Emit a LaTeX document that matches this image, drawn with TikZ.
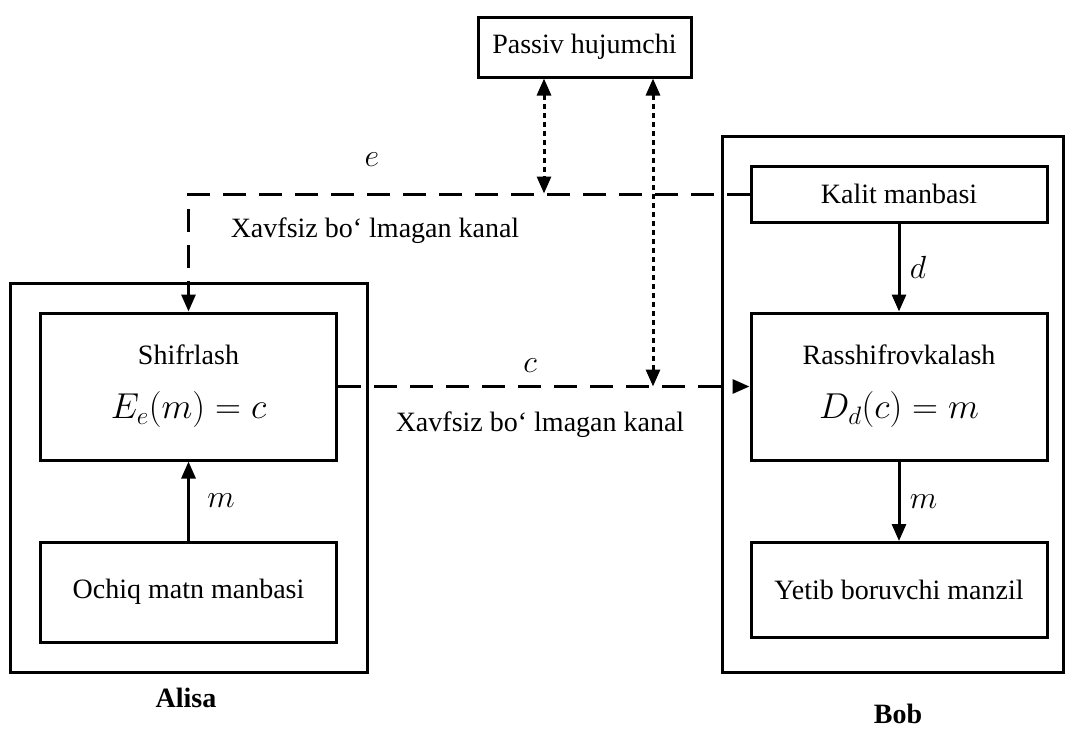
\RequirePackage{fix-cm}
\documentclass[tikz,border=0pt]{standalone}
\usepackage{fontspec}
\setmainfont{Liberation Serif}
\usetikzlibrary{arrows.meta}
\begin{document}
\begin{tikzpicture}[x=1pt,y=-1pt,line width=3pt,>={Triangle[length=17pt,width=14pt]}]
	\tikzstyle{box}=[draw,rectangle,minimum width=296pt,inner sep=0pt,align=center,font=\fontsize{28}{34}\selectfont]
	\tikzstyle{frame}=[draw,rectangle,inner sep=0pt]
	\tikzstyle{kanal}=[dash pattern=on 23pt off 13pt]
	\tikzstyle{hujum}=[dash pattern=on 5pt off 4pt,<->]
	\tikzstyle{lbl}=[font=\fontsize{28}{34}\selectfont]
	\tikzstyle{harf}=[font=\fontsize{32}{38}\selectfont]
	\useasboundingbox (0,0) rectangle (1067,731);

	\node[box,minimum width=213pt,minimum height=60pt] (pas) at (584.5,47) {Passiv hujumchi};

	\begin{scope}
		\node[frame,minimum width=357pt,minimum height=389pt] (alisa) at (188.5,477.5) {};
		\node[box,minimum height=147pt] (shf) at (188.5,386.5) {Shifrlash\\[20pt]{\fontsize{36}{40}\selectfont$E_e(m)=c$}};
		\node[box,minimum height=100pt] (och) at (188.5,592) {Ochiq matn manbasi};
		\draw[->] (och) -- (shf) node[harf,midway,right=14pt] (lm) {$m$};
		\node[lbl,font=\fontsize{28}{34}\selectfont\bfseries] (lalisa) at (186,698) {Alisa};
	\end{scope}

	\begin{scope}
		\node[frame,minimum width=341pt,minimum height=536pt] (bob) at (892.5,404) {};
		\node[box,minimum height=56pt] (kal) at (899,194) {Kalit manbasi};
		\node[box,minimum height=147pt] (ras) at (899,386.5) {Rasshifrovkalash\\[20pt]{\fontsize{36}{40}\selectfont$D_d(c)=m$}};
		\node[box,minimum height=95pt] (yet) at (899,590) {Yetib boruvchi manzil};
		\draw[->] (kal) -- (ras) node[harf,midway,right=6pt] (ld) {$d$};
		\draw[->] (ras) -- (yet) node[harf,midway,right=6pt] (lm2) {$m$};
		\node[lbl,font=\fontsize{28}{34}\selectfont\bfseries] (lbob) at (898,714) {Bob};
	\end{scope}

	% ochiq kanallar
	\draw[kanal,->] (kal.west) -| (shf.north);
	\draw[kanal,->] (shf.east) -- (ras.west);
	\node[harf] (le) at (372,160) {$e$};
	\node[lbl] (lx1) at (375,231) {Xavfsiz bo‘ lmagan kanal};
	\node[harf] (lc) at (530,366) {$c$};
	\node[lbl] (lx2) at (540,425) {Xavfsiz bo‘ lmagan kanal};

	% hujumchi
	\coordinate (ea) at (544,193.5);
	\coordinate (ca) at (653,386.5);
	\draw[hujum] (pas.south -| ea) -- (ea);
	\draw[hujum] (pas.south -| ca) -- (ca);
\end{tikzpicture}
\end{document}
